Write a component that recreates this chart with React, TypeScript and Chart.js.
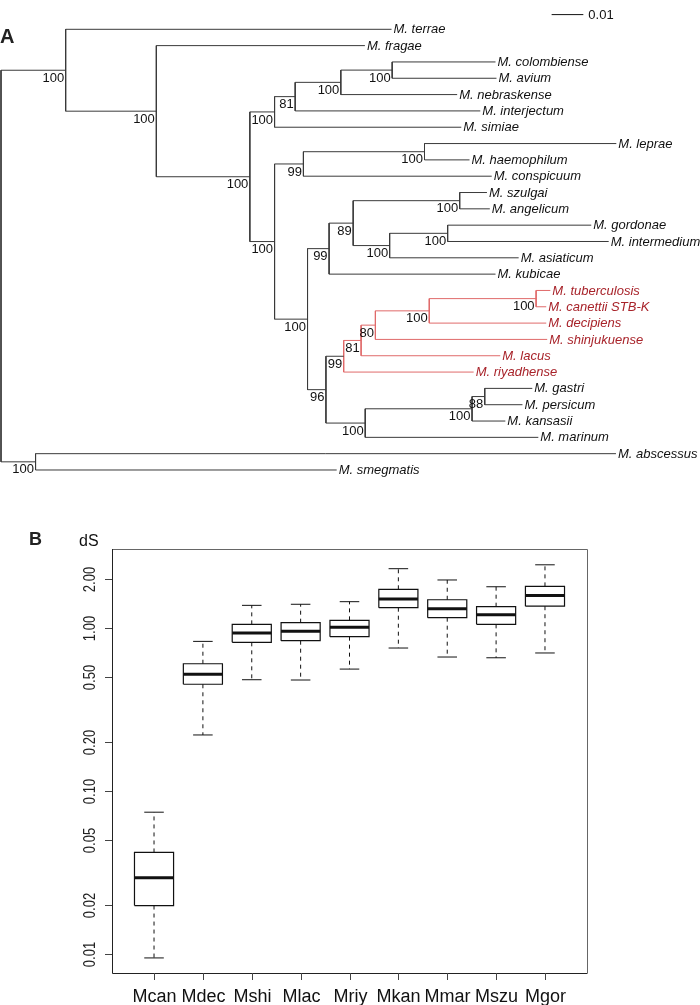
import React, { useEffect, useRef } from 'react';
import { Chart, registerables } from 'chart.js';

Chart.register(...registerables);

// ---------------- Panel A data: phylogeny ----------------
// Tips in plotting order (top to bottom)
const TAXA = [
  'M. terrae', 'M. fragae', 'M. colombiense', 'M. avium', 'M. nebraskense',
  'M. interjectum', 'M. simiae', 'M. leprae', 'M. haemophilum', 'M. conspicuum',
  'M. szulgai', 'M. angelicum', 'M. gordonae', 'M. intermedium', 'M. asiaticum',
  'M. kubicae', 'M. tuberculosis', 'M. canettii STB-K', 'M. decipiens',
  'M. shinjukuense', 'M. lacus', 'M. riyadhense', 'M. gastri', 'M. persicum',
  'M. kansasii', 'M. marinum', 'M. abscessus', 'M. smegmatis',
];
const TAXON_PARENT = [
  'n1', 'n2', 'n7', 'n7', 'n6', 'n5', 'n4', 'n10', 'n10', 'n9',
  'n15', 'n15', 'n17', 'n17', 'n16', 'n12', 'n23', 'n23', 'n22',
  'n21', 'n20', 'n18', 'n25', 'n25', 'n24', 'n19', 'n26', 'n26',
];
const TAXON_BRANCH = [
  0.1028, 0.0658, 0.0326, 0.0329, 0.0367, 0.0584, 0.0589, 0.0605, 0.0142, 0.0594,
  0.0086, 0.0095, 0.0453, 0.0508, 0.0407, 0.0525, 0.0045, 0.0032, 0.0369,
  0.0542, 0.0439, 0.0410, 0.0150, 0.0119, 0.0105, 0.0546, 0.1831, 0.0950,
];
// Internal nodes
const NODE_IDS = [
  'n1', 'n2', 'n3', 'n4', 'n5', 'n6', 'n7', 'n8', 'n9', 'n10', 'n11', 'n12', 'n13',
  'n15', 'n16', 'n17', 'n14', 'n18', 'n20', 'n21', 'n22', 'n23', 'n19', 'n24', 'n25', 'n26',
];
const NODE_PARENT = [
  'root', 'n1', 'n2', 'n3', 'n4', 'n5', 'n6', 'n3', 'n8', 'n9', 'n8', 'n11', 'n12',
  'n13', 'n13', 'n16', 'n11', 'n14', 'n18', 'n20', 'n21', 'n22', 'n14', 'n19', 'n24', 'root',
];
const NODE_BRANCH = [
  0.0204, 0.0286, 0.0295, 0.0078, 0.0065, 0.0144, 0.0162, 0.0078, 0.0091, 0.0382, 0.0104, 0.0068, 0.0076,
  0.0336, 0.0115, 0.0183, 0.0058, 0.0056, 0.0055, 0.0045, 0.0170, 0.0337, 0.0124, 0.0337, 0.0040, 0.0109,
];
const NODE_SUPPORT = [
  100, 100, 100, 100, 81, 100, 100, 100, 99, 100, 100, 99, 89,
  100, 100, 100, 96, 99, 81, 80, 100, 100, 100, 100, 88, 100,
];
const HIGHLIGHT_CLADE = 'n18';
const SCALE_BAR_LENGTH = 0.01;

// ---------------- Panel B data: dS box plot ----------------
const BOX_CATEGORIES = ['Mcan', 'Mdec', 'Mshi', 'Mlac', 'Mriy', 'Mkan', 'Mmar', 'Mszu', 'Mgor'];
const BOX_LOW = [0.0095, 0.221, 0.482, 0.480, 0.56, 0.754, 0.664, 0.657, 0.703];
const BOX_Q1 = [0.0199, 0.452, 0.817, 0.836, 0.885, 1.332, 1.157, 1.053, 1.36];
const BOX_MEDIAN = [0.0295, 0.520, 0.932, 0.954, 1.01, 1.506, 1.314, 1.207, 1.58];
const BOX_Q3 = [0.0421, 0.604, 1.053, 1.078, 1.114, 1.727, 1.49, 1.351, 1.80];
const BOX_HIGH = [0.0743, 0.828, 1.377, 1.398, 1.45, 2.31, 1.97, 1.79, 2.44];
const DS_TICKS = [0.01, 0.02, 0.05, 0.1, 0.2, 0.5, 1, 2];

// ---------------- styles / layout ----------------
const TREE_LINE = '#3a3a3a';
const RED_LINE = '#e06a6a';
const RED_TEXT = '#a8232a';
const SANS = '"Liberation Sans", Arial, Helvetica, sans-serif';

type TNode = {
  id: string; parent: string | null; len: number; x: number; y: number;
  children: string[]; leaf: boolean; label?: string; support?: number; red: boolean;
};

function buildTree() {
  const nodes: Record<string, TNode> = {};
  nodes.root = { id: 'root', parent: null, len: 0, x: 0, y: 0, children: [], leaf: false, red: false };
  NODE_IDS.forEach((id, i) => {
    nodes[id] = { id, parent: NODE_PARENT[i], len: NODE_BRANCH[i], x: 0, y: 0, children: [], leaf: false, support: NODE_SUPPORT[i], red: false };
  });
  TAXA.forEach((name, i) => {
    const id = 't' + i;
    nodes[id] = { id, parent: TAXON_PARENT[i], len: TAXON_BRANCH[i], x: 0, y: i, children: [], leaf: true, label: name, red: false };
  });
  Object.values(nodes).forEach((n) => { if (n.parent) nodes[n.parent].children.push(n.id); });
  const setX = (id: string, acc: number, red: boolean) => {
    const n = nodes[id];
    n.x = acc + n.len;
    n.red = red || id === HIGHLIGHT_CLADE;
    n.children.forEach((c) => setX(c, n.x, n.red));
  };
  setX('root', 0, false);
  const setY = (id: string): number => {
    const n = nodes[id];
    if (n.leaf) return n.y;
    const ys = n.children.map(setY);
    n.y = (Math.min(...ys) + Math.max(...ys)) / 2;
    return n.y;
  };
  setY('root');
  return nodes;
}

const TREE = buildTree();

function treeDatasets() {
  const ds: any[] = [];
  const seg = (x0: number, y0: number, x1: number, y1: number, red: boolean) => {
    ds.push({
      type: 'line',
      data: [{ x: x0, y: y0 }, { x: x1, y: y1 }],
      borderColor: red ? RED_LINE : TREE_LINE,
      borderWidth: 1,
      pointRadius: 0,
      fill: false,
      tension: 0,
    });
  };
  Object.values(TREE).forEach((n) => {
    if (n.parent) {
      const p = TREE[n.parent];
      seg(p.x, n.y, n.x, n.y, p.red);
    }
    if (!n.leaf) {
      const ys = n.children.map((c) => TREE[c].y);
      seg(n.x, Math.min(...ys), n.x, Math.max(...ys), n.red);
    }
  });
  return ds;
}

// scale bar anchor (layout position in tree coordinates)
const SCALE_BAR_X = 0.1737;
const SCALE_BAR_Y = -0.9;

const treeTextPlugin = {
  id: 'treeText',
  afterDatasetsDraw(chart: any) {
    const { ctx } = chart;
    const xs = chart.scales.x;
    const ys = chart.scales.y;
    ctx.save();
    // tip labels
    ctx.font = 'italic 13px ' + SANS;
    ctx.textAlign = 'left';
    ctx.textBaseline = 'middle';
    Object.values(TREE).forEach((n: any) => {
      if (!n.leaf) return;
      ctx.fillStyle = n.red ? RED_TEXT : '#111';
      ctx.fillText(n.label, xs.getPixelForValue(n.x) + 2, ys.getPixelForValue(n.y) + 0.5);
    });
    // support values
    ctx.font = '13px ' + SANS;
    ctx.textAlign = 'right';
    ctx.textBaseline = 'top';
    ctx.fillStyle = '#111';
    Object.values(TREE).forEach((n: any) => {
      if (n.leaf || n.support === undefined) return;
      ctx.fillText(String(n.support), xs.getPixelForValue(n.x) - 1.5, ys.getPixelForValue(n.y) + 1.5);
    });
    // scale bar label
    ctx.textAlign = 'left';
    ctx.textBaseline = 'middle';
    ctx.font = '13px ' + SANS;
    ctx.fillText(String(SCALE_BAR_LENGTH), xs.getPixelForValue(SCALE_BAR_X + SCALE_BAR_LENGTH) + 5, ys.getPixelForValue(SCALE_BAR_Y) + 0.5);
    // panel letter
    ctx.font = 'bold 20px ' + SANS;
    ctx.textBaseline = 'alphabetic';
    ctx.fillStyle = '#222';
    ctx.fillText('A', 0, 43);
    ctx.restore();
  },
};

function boxDatasets() {
  const ds: any[] = [];
  const line = (pts: { x: number; y: number }[], width: number, dash: number[] = []) => {
    ds.push({
      type: 'line',
      data: pts,
      borderColor: '#111',
      borderWidth: width,
      borderDash: dash,
      pointRadius: 0,
      fill: false,
      tension: 0,
    });
  };
  BOX_CATEGORIES.forEach((_, i) => {
    const x = i + 1;
    const hw = 0.4;
    const cw = 0.2;
    line([{ x, y: BOX_Q3[i] }, { x, y: BOX_HIGH[i] }], 1, [4, 4]);
    line([{ x, y: BOX_Q1[i] }, { x, y: BOX_LOW[i] }], 1, [4, 4]);
    line([{ x: x - cw, y: BOX_HIGH[i] }, { x: x + cw, y: BOX_HIGH[i] }], 1);
    line([{ x: x - cw, y: BOX_LOW[i] }, { x: x + cw, y: BOX_LOW[i] }], 1);
    line([
      { x: x - hw, y: BOX_Q1[i] }, { x: x + hw, y: BOX_Q1[i] }, { x: x + hw, y: BOX_Q3[i] },
      { x: x - hw, y: BOX_Q3[i] }, { x: x - hw, y: BOX_Q1[i] },
    ], 1.2);
    line([{ x: x - hw, y: BOX_MEDIAN[i] }, { x: x + hw, y: BOX_MEDIAN[i] }], 3);
  });
  return ds;
}

const boxAxesPlugin = {
  id: 'boxAxes',
  afterDatasetsDraw(chart: any) {
    const { ctx, chartArea } = chart;
    const { left, right, top, bottom } = chartArea;
    const xs = chart.scales.x;
    const ys = chart.scales.y;
    ctx.save();
    ctx.lineWidth = 1;
    // frame
    ctx.strokeStyle = '#666';
    ctx.beginPath();
    ctx.moveTo(left, top + 0.5);
    ctx.lineTo(right + 0.5, top + 0.5);
    ctx.lineTo(right + 0.5, bottom);
    ctx.stroke();
    ctx.strokeStyle = '#222';
    ctx.beginPath();
    ctx.moveTo(left + 0.5, top);
    ctx.lineTo(left + 0.5, bottom + 0.5);
    ctx.lineTo(right + 0.5, bottom + 0.5);
    ctx.stroke();
    // y ticks
    ctx.strokeStyle = '#444';
    ctx.fillStyle = '#222';
    ctx.font = '13px ' + SANS;
    DS_TICKS.forEach((v) => {
      const py = Math.round(ys.getPixelForValue(v)) + 0.5;
      ctx.beginPath();
      ctx.moveTo(left - 7, py);
      ctx.lineTo(left, py);
      ctx.stroke();
      ctx.save();
      ctx.translate(left - 21, py);
      ctx.rotate(-Math.PI / 2);
      ctx.scale(1, 1.25);
      ctx.textAlign = 'center';
      ctx.textBaseline = 'middle';
      ctx.fillText(v.toFixed(2), 0, 0);
      ctx.restore();
    });
    // x ticks
    ctx.font = '18px ' + SANS;
    ctx.textAlign = 'center';
    ctx.textBaseline = 'alphabetic';
    ctx.fillStyle = '#111';
    BOX_CATEGORIES.forEach((c, i) => {
      const px = Math.round(xs.getPixelForValue(i + 1)) + 0.5;
      ctx.beginPath();
      ctx.moveTo(px, bottom);
      ctx.lineTo(px, bottom + 7);
      ctx.stroke();
      ctx.fillText(c, px, bottom + 29);
    });
    // axis title and panel letter
    ctx.font = '16px ' + SANS;
    ctx.textAlign = 'left';
    ctx.fillStyle = '#111';
    ctx.fillText('dS', 79, 46);
    ctx.font = 'bold 18px ' + SANS;
    ctx.fillStyle = '#222';
    ctx.fillText('B', 29, 45);
    ctx.restore();
  },
};

export default function App() {
  const treeRef = useRef<HTMLCanvasElement | null>(null);
  const boxRef = useRef<HTMLCanvasElement | null>(null);

  useEffect(() => {
    document.body.style.margin = '0';
    const treeData = treeDatasets();
    treeData.push({
      type: 'line',
      data: [{ x: SCALE_BAR_X, y: SCALE_BAR_Y }, { x: SCALE_BAR_X + SCALE_BAR_LENGTH, y: SCALE_BAR_Y }],
      borderColor: '#111',
      borderWidth: 1,
      pointRadius: 0,
      fill: false,
    });
    const treeChart = new Chart(treeRef.current as HTMLCanvasElement, {
      type: 'line',
      data: { datasets: treeData },
      options: {
        animation: false,
        responsive: false,
        events: [],
        layout: { padding: 0 },
        plugins: { legend: { display: false }, tooltip: { enabled: false } },
        scales: {
          x: { type: 'linear', min: -1 / 3170, max: 699 / 3170, display: false },
          y: { type: 'linear', reverse: true, min: -1.795, max: 28.838, display: false },
        },
      },
      plugins: [treeTextPlugin],
    } as any);

    const boxChart = new Chart(boxRef.current as HTMLCanvasElement, {
      type: 'line',
      data: { datasets: boxDatasets() },
      options: {
        animation: false,
        responsive: false,
        events: [],
        layout: { padding: { left: 112, right: 113, top: 49, bottom: 32 } },
        plugins: { legend: { display: false }, tooltip: { enabled: false } },
        scales: {
          x: { type: 'linear', min: 0.14, max: 9.86, display: false },
          y: { type: 'logarithmic', min: 0.00768, max: 3.05, bounds: 'data', display: false },
        },
      },
      plugins: [boxAxesPlugin],
    } as any);

    return () => {
      treeChart.destroy();
      boxChart.destroy();
    };
  }, []);

  return (
    <div style={{ position: 'relative', width: 700, height: 1005, background: '#fff', overflow: 'hidden' }}>
      <canvas ref={treeRef} width={700} height={500} style={{ position: 'absolute', left: 0, top: 0 }} />
      <canvas ref={boxRef} width={700} height={505} style={{ position: 'absolute', left: 0, top: 500 }} />
    </div>
  );
}
